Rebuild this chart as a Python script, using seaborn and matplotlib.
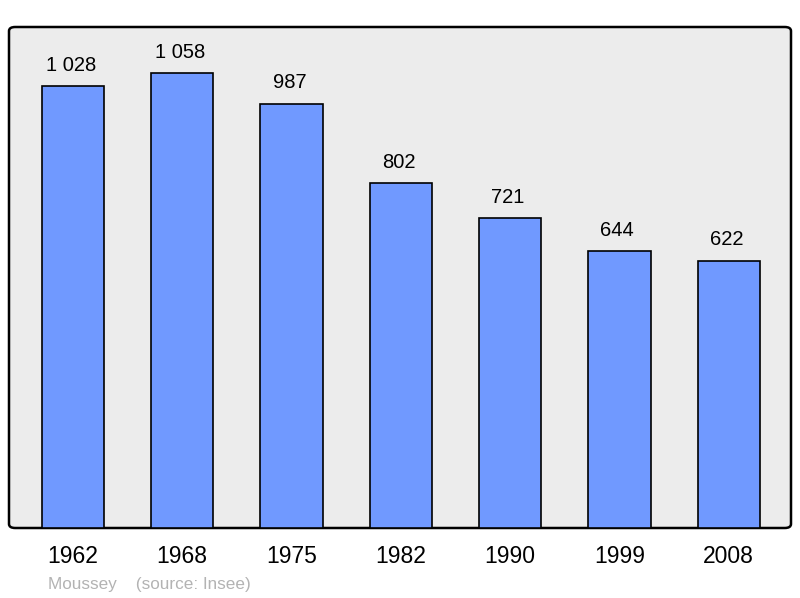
import matplotlib
matplotlib.use("Agg")
import matplotlib.pyplot as plt
import seaborn as sns
import pandas as pd
from matplotlib.patches import FancyBboxPatch

years = ["1962", "1968", "1975", "1982", "1990", "1999", "2008"]
population = [1028, 1058, 987, 802, 721, 644, 622]
value_labels = ["1 028", "1 058", "987", "802", "721", "644", "622"]

df = pd.DataFrame({"annee": years, "pop": population})

sns.set_style("white")
plt.rcParams["font.family"] = ["Liberation Sans", "DejaVu Sans"]
plt.rcParams["text.color"] = "black"
plt.rcParams["xtick.color"] = "black"

fig = plt.figure(figsize=(8, 5.98), dpi=100)
ax = fig.add_axes([9 / 800, 70 / 598, 782 / 800, 501 / 598])
ax.set_facecolor("none")

# fond gris aux coins arrondis, derrière les barres
bg = FancyBboxPatch((0, 0), 1, 1,
                    boxstyle="round,pad=0,rounding_size=0.008",
                    transform=ax.transAxes, facecolor="#ececec",
                    edgecolor="black", linewidth=1.8, zorder=0,
                    clip_on=False)
ax.add_patch(bg)

sns.barplot(data=df, x="annee", y="pop", color="#7099ff", saturation=1,
            width=0.57, edgecolor="black", linewidth=1.2, ax=ax, zorder=2)

for i, (v, lab) in enumerate(zip(population, value_labels)):
    ax.text(i - 0.02, v + 26, lab, ha="center", va="bottom", fontsize=14.5)

ax.set_xlim(-0.585, 6.57)
ax.set_ylim(0, 1165)
ax.set_yticks([])
ax.set_xlabel("")
ax.set_ylabel("")
for s in ax.spines.values():
    s.set_visible(False)
ax.tick_params(axis="x", length=0, labelsize=16.5, pad=12)

fig.text(48 / 800, 14 / 598, "Moussey    (source: Insee)", color="#b3b3b3",
         fontsize=12.3, ha="left", va="center")

fig.savefig("out.png", dpi=100)
